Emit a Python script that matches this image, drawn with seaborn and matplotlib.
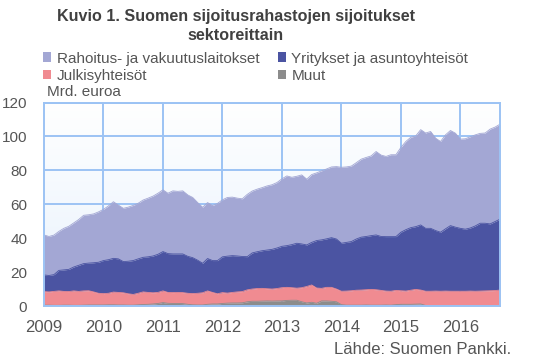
import numpy as np
import pandas as pd
import matplotlib
matplotlib.use("Agg")
import matplotlib.pyplot as plt
from matplotlib.colors import LinearSegmentedColormap
from matplotlib.patches import Patch
import seaborn as sns

# ---- data (Mrd. euroa), monthly Jan 2009 .. Sep 2016 ----
start_year = 2009
# total (cumulative top of all four sectors)
total = [41.9, 41.0, 41.8, 44.0, 45.8, 47.0, 49.0, 51.0, 53.5, 53.8, 54.3, 55.5,
         57.0, 59.0, 61.5, 59.5, 57.6, 58.3, 59.3, 60.6, 62.5, 63.6, 64.8, 66.5,
         68.5, 66.5, 67.9, 67.6, 67.9, 65.5, 64.0, 61.0, 58.2, 61.0, 59.2, 60.5,
         62.6, 64.0, 64.2, 63.6, 63.2, 65.8, 67.8, 68.9, 69.8, 70.8, 71.5, 72.8,
         75.0, 76.7, 75.9, 76.5, 77.3, 74.8, 77.5, 78.5, 79.7, 80.8, 82.0, 82.2,
         81.8, 82.0, 82.5, 84.5, 86.6, 87.6, 88.5, 91.1, 89.0, 88.2, 89.2, 89.2,
         93.5, 97.0, 99.5, 100.3, 104.0, 102.0, 102.9, 99.0, 97.0, 100.9, 103.5, 101.9,
         98.4, 98.6, 99.8, 100.9, 101.8, 102.0, 104.3, 105.5, 107.2]
# cumulative top of Yritykset (Muut + Julkis + Yritykset)
cum_yritykset = [18.3, 18.0, 18.5, 21.0, 21.3, 21.6, 23.0, 24.0, 25.0, 25.3, 25.5, 25.8,
                 26.8, 27.3, 28.1, 27.8, 26.2, 26.4, 26.8, 27.8, 28.7, 29.0, 29.5, 30.5,
                 32.1, 30.9, 30.7, 30.7, 30.7, 29.3, 28.5, 27.0, 25.2, 28.0, 26.8, 26.8,
                 29.0, 29.4, 29.7, 29.5, 29.2, 29.1, 31.3, 32.0, 32.6, 33.0, 33.4, 34.2,
                 35.2, 35.6, 36.2, 37.0, 36.6, 36.0, 37.5, 38.6, 39.0, 39.6, 40.3, 39.5,
                 37.0, 37.5, 38.0, 39.5, 40.6, 41.0, 41.5, 41.9, 41.0, 40.9, 40.9, 40.9,
                 43.5, 45.0, 46.2, 46.8, 47.8, 45.8, 45.8, 44.5, 43.5, 45.5, 47.4, 46.5,
                 45.8, 45.3, 46.0, 47.2, 48.8, 48.8, 48.4, 49.8, 51.2]
# cumulative top of Julkisyhteisöt (Muut + Julkis)
cum_julkis = [8.5, 8.3, 8.6, 8.9, 8.6, 8.5, 8.9, 8.6, 8.9, 9.0, 8.3, 7.5,
              7.3, 7.5, 8.2, 8.0, 7.8, 7.2, 6.8, 7.5, 8.3, 8.0, 7.8, 8.0,
              8.9, 8.0, 7.9, 8.0, 7.9, 7.5, 7.3, 7.5, 7.8, 8.9, 8.0, 7.2,
              7.9, 7.6, 8.0, 8.3, 8.5, 9.5, 10.0, 10.3, 10.4, 10.2, 10.0, 10.3,
              10.8, 11.0, 10.8, 10.5, 10.8, 11.5, 12.4, 10.6, 10.4, 11.0, 11.0, 10.0,
              8.7, 8.8, 9.0, 9.3, 9.4, 9.6, 9.8, 9.6, 9.2, 8.8, 8.7, 9.2,
              9.0, 8.8, 9.3, 9.8, 9.4, 8.7, 8.7, 8.8, 8.7, 8.8, 8.7, 8.7,
              8.7, 8.7, 8.8, 8.7, 8.8, 8.9, 9.0, 9.1, 9.4]
# Muut
muut = [0.5, 0.5, 0.4, 0.4, 0.5, 0.5, 0.4, 0.4, 0.5, 0.6, 0.6, 0.6,
        0.6, 0.7, 0.7, 0.6, 0.6, 0.5, 0.5, 0.7, 0.9, 1.0, 1.2, 1.5,
        2.0, 1.6, 1.5, 1.5, 1.4, 1.0, 0.7, 0.6, 0.6, 1.0, 1.2, 1.2,
        1.5, 1.7, 1.8, 1.8, 1.9, 2.5, 2.8, 2.8, 2.9, 3.0, 2.9, 3.0,
        3.0, 3.3, 3.4, 3.4, 2.5, 1.8, 2.2, 1.6, 3.0, 3.0, 2.8, 2.5,
        0.8, 0.5, 0.5, 0.5, 0.5, 0.6, 0.5, 0.5, 0.5, 0.6, 0.5, 0.8,
        1.0, 1.0, 1.0, 1.1, 1.2, 0.3, 0.1, 0.1, 0.1, 0.1, 0.1, 0.1,
        0.1, 0.1, 0.1, 0.1, 0.1, 0.1, 0.1, 0.1, 0.1]

labels = ["Rahoitus- ja vakuutuslaitokset", "Yritykset ja asuntoyhteisöt",
          "Julkisyhteisöt", "Muut"]
colors = {"Rahoitus- ja vakuutuslaitokset": "#a3a7d4",
          "Yritykset ja asuntoyhteisöt": "#4b54a2",
          "Julkisyhteisöt": "#f08b91",
          "Muut": "#8c8c8c"}
year_ticks = [2009, 2010, 2011, 2012, 2013, 2014, 2015, 2016]
y_ticks = [0, 20, 40, 60, 80, 100, 120]

n = len(total)
df = pd.DataFrame({
    "x": [start_year + i / 12 for i in range(n)],
    "total": total, "cum_yr": cum_yritykset, "cum_ju": cum_julkis, "muut": muut,
})

sns.set_theme(style="white")
plt.rcParams["font.family"] = ["Liberation Sans", "DejaVu Sans"]

fig = plt.figure(figsize=(5.36, 3.63), dpi=100)
ax = fig.add_axes([44 / 536, 1 - 306 / 363, 456 / 536, 203.5 / 363])

xmin, xmax = df["x"].iloc[0], df["x"].iloc[-1]
ymin, ymax = 0, 120

# gradient background
cmap = LinearSegmentedColormap.from_list("bg", ["#e8f2fd", "#ffffff"])
grad = np.linspace(0, 1, 256).reshape(-1, 1)
ax.imshow(grad, extent=[xmin, xmax, ymin, ymax], origin="lower", cmap=cmap,
          aspect="auto", zorder=0)

grid_col = "#9cc3f4"
for yv in y_ticks[1:]:
    ax.axhline(yv, color=grid_col, lw=1.4, zorder=1)
for xv in year_ticks[1:]:
    ax.axvline(xv, color=grid_col, lw=1.4, zorder=1)

layers = [
    ("Muut", np.zeros(n), df["muut"]),
    ("Julkisyhteisöt", df["muut"], df["cum_ju"]),
    ("Yritykset ja asuntoyhteisöt", df["cum_ju"], df["cum_yr"]),
    ("Rahoitus- ja vakuutuslaitokset", df["cum_yr"], df["total"]),
]
for name, lo, hi in layers[::-1]:
    ax.fill_between(df["x"], lo, hi, color=colors[name], lw=0, zorder=2)
for name, lo, hi in layers:
    sns.lineplot(x=df["x"], y=hi, ax=ax, color=colors[name], lw=0.6, zorder=3)

ax.set_xlim(xmin, xmax)
ax.set_ylim(ymin, ymax)
ax.set_xlabel("")
ax.set_ylabel("")
ax.set_xticks(year_ticks)
ax.set_xticklabels([str(y) for y in year_ticks], fontsize=12, color="#555555")
ax.set_yticks(y_ticks)
ax.set_yticklabels([str(v) for v in y_ticks], fontsize=11, color="#555555")
ax.tick_params(axis="x", length=0, pad=10)
ax.tick_params(axis="y", length=0, pad=12)
for side, sp in ax.spines.items():
    sp.set_color(grid_col)
    sp.set_linewidth(1.4)
    sp.set_zorder(4)

# title
fig.text(236 / 536, 1 - 17 / 363, "Kuvio 1. Suomen sijoitusrahastojen sijoitukset",
         ha="center", va="center", fontsize=11.6, fontweight="bold", color="#404040")
fig.text(236 / 536, 1 - 36 / 363, "sektoreittain",
         ha="center", va="center", fontsize=11.6, fontweight="bold", color="#404040")

# legend
order = ["Rahoitus- ja vakuutuslaitokset", "Julkisyhteisöt",
         "Yritykset ja asuntoyhteisöt", "Muut"]
handles = [Patch(facecolor=colors[k], edgecolor="none") for k in order]
leg = fig.legend(handles, order, ncol=2, loc="upper left",
                 bbox_to_anchor=(43 / 536, 1 - 51.5 / 363), frameon=False,
                 fontsize=11, handlelength=0.55, handleheight=0.55,
                 handletextpad=0.35, labelspacing=0.2, columnspacing=1.2,
                 borderpad=0, borderaxespad=0)
for t in leg.get_texts():
    t.set_color("#555555")

fig.text(47 / 536, 1 - 92 / 363, "Mrd. euroa", ha="left", va="center",
         fontsize=11, color="#555555")
fig.text(511 / 536, 1 - 350 / 363, "Lähde: Suomen Pankki.", ha="right",
         va="center", fontsize=12, color="#555555")

fig.savefig("out.png", dpi=100)
